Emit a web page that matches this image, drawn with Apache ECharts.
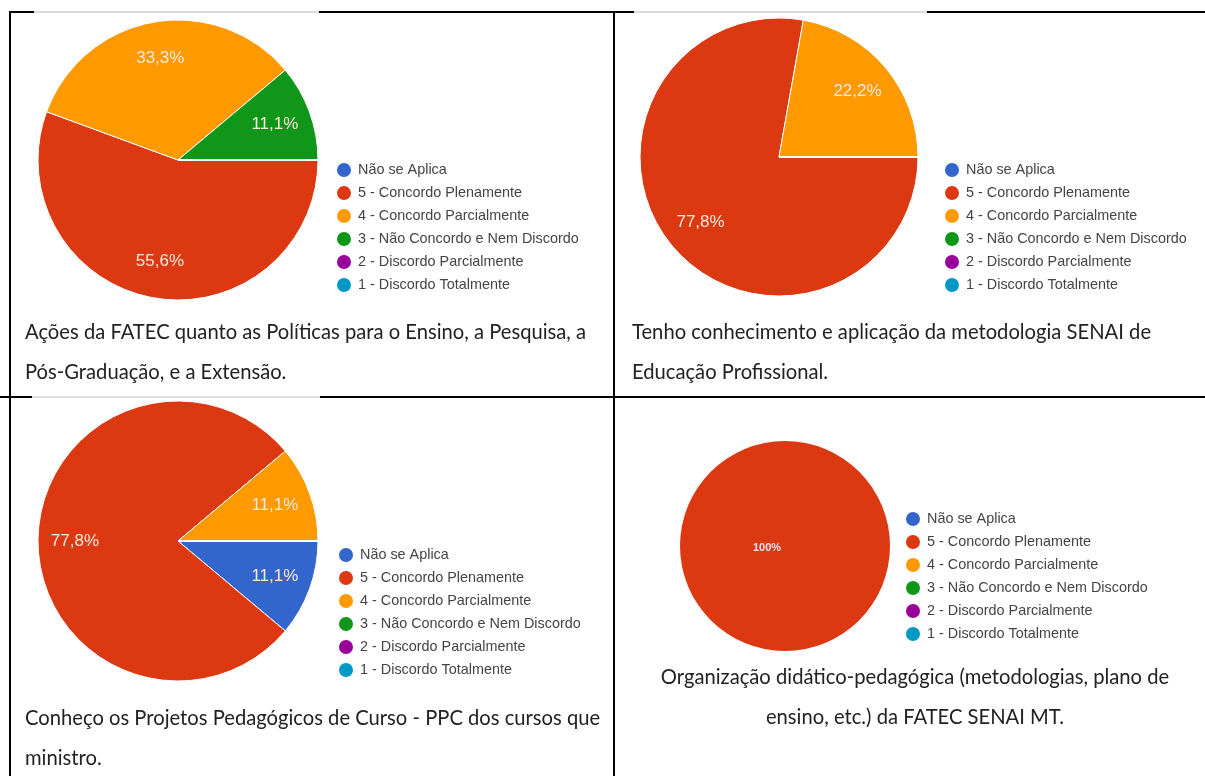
<!DOCTYPE html>
<html><head><meta charset="utf-8">
<script src="https://cdn.jsdelivr.net/npm/echarts@6/dist/echarts.min.js"></script>
<style>html,body{margin:0;padding:0;background:#fff}#c{width:1205px;height:776px}</style>
</head><body><div id="c"></div>
<script>
// ---- data ----
const categories = ['Não se Aplica', '5 - Concordo Plenamente', '4 - Concordo Parcialmente', '3 - Não Concordo e Nem Discordo', '2 - Discordo Parcialmente', '1 - Discordo Totalmente'];
const categoryColors = ['#3366cc', '#dc3912', '#ff9900', '#109618', '#990099', '#0099c6'];
const valuesPoliticas = [0, 55.6, 33.3, 11.1, 0, 0];
const valuesMetodologia = [0, 77.8, 22.2, 0, 0, 0];
const valuesPPC = [11.1, 77.8, 11.1, 0, 0, 0];
const valuesOrganizacao = [0, 100, 0, 0, 0, 0];
const captionPoliticas = ['Ações da FATEC quanto as Políticas para o Ensino, a Pesquisa, a', 'Pós-Graduação, e a Extensão.'];
const captionMetodologia = ['Tenho conhecimento e aplicação da metodologia SENAI de', 'Educação Profissional.'];
const captionPPC = ['Conheço os Projetos Pedagógicos de Curso - PPC dos cursos que', 'ministro.'];
const captionOrganizacao = ['Organização didático-pedagógica (metodologias, plano de', 'ensino, etc.) da FATEC SENAI MT.'];

// ---- layout ----
const panels = [
  { values: valuesPoliticas, center: [178, 160], r: 140, legend: [335, 161], caption: captionPoliticas, capX: 25, capY: [332, 372], capAlign: 'left' },
  { values: valuesMetodologia, center: [779, 157], r: 139, legend: [943, 161], caption: captionMetodologia, capX: 632, capY: [332, 372], capAlign: 'left' },
  { values: valuesPPC, center: [178, 541], r: 140, legend: [337, 546], caption: captionPPC, capX: 25, capY: [718, 758], capAlign: 'left' },
  { values: valuesOrganizacao, center: [785, 546], r: 105, legend: [904, 510], caption: captionOrganizacao, capX: 915, capY: [677, 717], capAlign: 'center', single: true }
];

const fmt = p => p.value ? String(p.value).replace('.', ',') + '%' : '';
const mkData = vals => categories.map((n, i) => ({ name: n, value: vals[i], itemStyle: { color: categoryColors[i] } }));

const series = [];
const legends = [];
const graphics = [];

panels.forEach(p => {
  series.push({
    type: 'pie', center: p.center, radius: p.r, startAngle: 0, clockwise: true,
    silent: true, animation: false, avoidLabelOverlap: false,
    itemStyle: { borderColor: '#fff', borderWidth: p.single ? 0 : 1 },
    label: p.single ? { show: true, position: 'center', formatter: fmt, color: '#fde', fontSize: 11, fontWeight: 'bold', fontFamily: 'Liberation Sans, Arial', offset: [-18, 2] } : { show: false },
    labelLine: { show: false },
    emphasis: { disabled: true },
    data: mkData(p.values)
  });
  legends.push({
    orient: 'vertical', left: p.legend[0], top: p.legend[1], icon: 'circle', padding: 0,
    itemWidth: 16, itemHeight: 16, itemGap: 5, selectedMode: false,
    data: categories,
    textStyle: { fontSize: 14.4, fontFamily: 'Liberation Sans, Arial', color: '#444', lineHeight: 16, padding: [0, 0, 0, 1] }
  });
  p.caption.forEach((t, k) => {
    graphics.push({ type: 'text', x: p.capX, y: p.capY[k], silent: true,
      style: { text: t, fontSize: 20.2, fontFamily: 'Lato', fill: '#222', align: p.capAlign, verticalAlign: 'middle' } });
  });
});
// label overlays (labels placed at ~0.72 radius)
panels.forEach(p => {
  if (p.single) return;
  series.push({
    type: 'pie', center: p.center, radius: [p.r * 0.43, p.r], startAngle: 0, clockwise: true,
    silent: true, animation: false, avoidLabelOverlap: false,
    itemStyle: { color: 'rgba(0,0,0,0)', borderWidth: 0 },
    label: { show: true, position: 'inside', formatter: fmt, color: '#fde8dc', fontSize: 17, fontFamily: 'Liberation Sans, Arial' },
    labelLine: { show: false },
    emphasis: { disabled: true },
    data: categories.map((n, i) => ({ name: n, value: p.values[i] }))
  });
});

// table borders
const L = (x1, y1, x2, y2, c, w) => ({ type: 'line', silent: true, z: 100, shape: { x1, y1, x2, y2 }, style: { stroke: c || '#000', lineWidth: w || 2 } });
graphics.push(
  L(9, 12, 34, 12), L(34, 12, 319, 12, '#bbb', 1), L(319, 12, 634, 12), L(634, 12, 927, 12, '#bbb', 1), L(927, 12, 1205, 12),
  L(0, 397, 32, 397), L(32, 397, 320, 397, '#bbb', 1), L(320, 397, 1205, 397),
  L(10, 11, 10, 776), L(614, 11, 614, 776)
);

const chart = echarts.init(document.getElementById('c'), null, { renderer: 'canvas' });
chart.setOption({
  backgroundColor: '#fff',
  animation: false,
  legend: legends,
  series: series,
  graphic: graphics
});
</script></body></html>
